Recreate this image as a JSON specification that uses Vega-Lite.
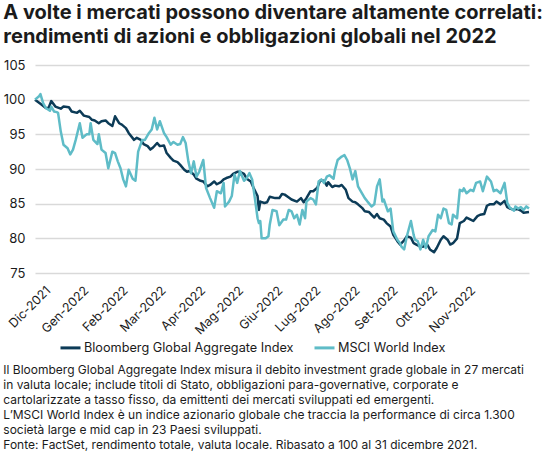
{
  "$schema": "https://vega.github.io/schema/vega-lite/v6.json",
  "background": "white",
  "padding": {"left": 3, "top": 3, "right": 0, "bottom": 0},
  "title": {
    "text": ["A volte i mercati possono diventare altamente correlati:", "rendimenti di azioni e obbligazioni globali nel 2022"],
    "anchor": "start",
    "frame": "bounds",
    "font": "Inter",
    "fontSize": 20,
    "fontWeight": "bold",
    "color": "#1b1b1b",
    "lineHeight": 24,
    "offset": 12
  },
  "config": {
    "font": "Inter",
    "view": {"stroke": null},
    "concat": {"spacing": 0}
  },
  "vconcat": [
    {
      "width": 494,
      "height": 208,
      "title": {
        "text": [
          "Il Bloomberg Global Aggregate Index misura il debito investment grade globale in 27 mercati",
          "in valuta locale; include titoli di Stato, obbligazioni para-governative, corporate e",
          "cartolarizzate a tasso fisso, da emittenti dei mercati sviluppati ed emergenti.",
          "L’MSCI World Index è un indice azionario globale che traccia la performance di circa 1.300",
          "società large e mid cap in 23 Paesi sviluppati.",
          "Fonte: FactSet, rendimento totale, valuta locale. Ribasato a 100 al 31 dicembre 2021."
        ],
        "orient": "bottom",
        "anchor": "start",
        "frame": "bounds",
        "font": "Inter",
        "fontSize": 12,
        "fontWeight": "normal",
        "color": "#1b1b1b",
        "lineHeight": 15,
        "offset": 29
      },
      "data": {
        "values": [
          {"data": "2021-12-31", "serie": "Bloomberg Global Aggregate Index", "valore": 100},
          {"data": "2022-01-04", "serie": "Bloomberg Global Aggregate Index", "valore": 99.4},
          {"data": "2022-01-08", "serie": "Bloomberg Global Aggregate Index", "valore": 98.8},
          {"data": "2022-01-10", "serie": "Bloomberg Global Aggregate Index", "valore": 98.8},
          {"data": "2022-01-12", "serie": "Bloomberg Global Aggregate Index", "valore": 99.8},
          {"data": "2022-01-15", "serie": "Bloomberg Global Aggregate Index", "valore": 99.0},
          {"data": "2022-01-19", "serie": "Bloomberg Global Aggregate Index", "valore": 98.7},
          {"data": "2022-01-21", "serie": "Bloomberg Global Aggregate Index", "valore": 99.0},
          {"data": "2022-01-25", "serie": "Bloomberg Global Aggregate Index", "valore": 98.9},
          {"data": "2022-01-27", "serie": "Bloomberg Global Aggregate Index", "valore": 98.3},
          {"data": "2022-01-31", "serie": "Bloomberg Global Aggregate Index", "valore": 98.1},
          {"data": "2022-02-02", "serie": "Bloomberg Global Aggregate Index", "valore": 98.4},
          {"data": "2022-02-05", "serie": "Bloomberg Global Aggregate Index", "valore": 97.7},
          {"data": "2022-02-09", "serie": "Bloomberg Global Aggregate Index", "valore": 97.5},
          {"data": "2022-02-11", "serie": "Bloomberg Global Aggregate Index", "valore": 97.1},
          {"data": "2022-02-13", "serie": "Bloomberg Global Aggregate Index", "valore": 97.0},
          {"data": "2022-02-16", "serie": "Bloomberg Global Aggregate Index", "valore": 96.6},
          {"data": "2022-02-18", "serie": "Bloomberg Global Aggregate Index", "valore": 96.9},
          {"data": "2022-02-21", "serie": "Bloomberg Global Aggregate Index", "valore": 97.0},
          {"data": "2022-02-23", "serie": "Bloomberg Global Aggregate Index", "valore": 96.6},
          {"data": "2022-02-26", "serie": "Bloomberg Global Aggregate Index", "valore": 96.2},
          {"data": "2022-02-28", "serie": "Bloomberg Global Aggregate Index", "valore": 97.6},
          {"data": "2022-03-03", "serie": "Bloomberg Global Aggregate Index", "valore": 96.6},
          {"data": "2022-03-05", "serie": "Bloomberg Global Aggregate Index", "valore": 96.4},
          {"data": "2022-03-08", "serie": "Bloomberg Global Aggregate Index", "valore": 95.9},
          {"data": "2022-03-10", "serie": "Bloomberg Global Aggregate Index", "valore": 95.2},
          {"data": "2022-03-14", "serie": "Bloomberg Global Aggregate Index", "valore": 94.2},
          {"data": "2022-03-16", "serie": "Bloomberg Global Aggregate Index", "valore": 94.5},
          {"data": "2022-03-19", "serie": "Bloomberg Global Aggregate Index", "valore": 94.2},
          {"data": "2022-03-21", "serie": "Bloomberg Global Aggregate Index", "valore": 93.6},
          {"data": "2022-03-24", "serie": "Bloomberg Global Aggregate Index", "valore": 93.3},
          {"data": "2022-03-26", "serie": "Bloomberg Global Aggregate Index", "valore": 92.8},
          {"data": "2022-03-28", "serie": "Bloomberg Global Aggregate Index", "valore": 93.1},
          {"data": "2022-03-31", "serie": "Bloomberg Global Aggregate Index", "valore": 93.75},
          {"data": "2022-04-02", "serie": "Bloomberg Global Aggregate Index", "valore": 93.3},
          {"data": "2022-04-05", "serie": "Bloomberg Global Aggregate Index", "valore": 93.4},
          {"data": "2022-04-07", "serie": "Bloomberg Global Aggregate Index", "valore": 92.3},
          {"data": "2022-04-10", "serie": "Bloomberg Global Aggregate Index", "valore": 91.6},
          {"data": "2022-04-12", "serie": "Bloomberg Global Aggregate Index", "valore": 91.2},
          {"data": "2022-04-15", "serie": "Bloomberg Global Aggregate Index", "valore": 91.0},
          {"data": "2022-04-17", "serie": "Bloomberg Global Aggregate Index", "valore": 90.6},
          {"data": "2022-04-20", "serie": "Bloomberg Global Aggregate Index", "valore": 89.9},
          {"data": "2022-04-22", "serie": "Bloomberg Global Aggregate Index", "valore": 89.6},
          {"data": "2022-04-24", "serie": "Bloomberg Global Aggregate Index", "valore": 89.7},
          {"data": "2022-04-27", "serie": "Bloomberg Global Aggregate Index", "valore": 89.2},
          {"data": "2022-04-29", "serie": "Bloomberg Global Aggregate Index", "valore": 88.6},
          {"data": "2022-05-02", "serie": "Bloomberg Global Aggregate Index", "valore": 88.3},
          {"data": "2022-05-04", "serie": "Bloomberg Global Aggregate Index", "valore": 88.2},
          {"data": "2022-05-07", "serie": "Bloomberg Global Aggregate Index", "valore": 87.5},
          {"data": "2022-05-09", "serie": "Bloomberg Global Aggregate Index", "valore": 87.7},
          {"data": "2022-05-12", "serie": "Bloomberg Global Aggregate Index", "valore": 88.2},
          {"data": "2022-05-14", "serie": "Bloomberg Global Aggregate Index", "valore": 87.8},
          {"data": "2022-05-17", "serie": "Bloomberg Global Aggregate Index", "valore": 88.1},
          {"data": "2022-05-19", "serie": "Bloomberg Global Aggregate Index", "valore": 88.5},
          {"data": "2022-05-21", "serie": "Bloomberg Global Aggregate Index", "valore": 88.7},
          {"data": "2022-05-24", "serie": "Bloomberg Global Aggregate Index", "valore": 88.9},
          {"data": "2022-05-26", "serie": "Bloomberg Global Aggregate Index", "valore": 89.3},
          {"data": "2022-05-29", "serie": "Bloomberg Global Aggregate Index", "valore": 89.6},
          {"data": "2022-05-31", "serie": "Bloomberg Global Aggregate Index", "valore": 89.6},
          {"data": "2022-06-03", "serie": "Bloomberg Global Aggregate Index", "valore": 89.3},
          {"data": "2022-06-05", "serie": "Bloomberg Global Aggregate Index", "valore": 88.6},
          {"data": "2022-06-08", "serie": "Bloomberg Global Aggregate Index", "valore": 88.2},
          {"data": "2022-06-10", "serie": "Bloomberg Global Aggregate Index", "valore": 87.3},
          {"data": "2022-06-13", "serie": "Bloomberg Global Aggregate Index", "valore": 86.1},
          {"data": "2022-06-14", "serie": "Bloomberg Global Aggregate Index", "valore": 84.1},
          {"data": "2022-06-15", "serie": "Bloomberg Global Aggregate Index", "valore": 85.3},
          {"data": "2022-06-18", "serie": "Bloomberg Global Aggregate Index", "valore": 85.1},
          {"data": "2022-06-20", "serie": "Bloomberg Global Aggregate Index", "valore": 85.2},
          {"data": "2022-06-22", "serie": "Bloomberg Global Aggregate Index", "valore": 86.0},
          {"data": "2022-06-26", "serie": "Bloomberg Global Aggregate Index", "valore": 85.8},
          {"data": "2022-06-29", "serie": "Bloomberg Global Aggregate Index", "valore": 85.8},
          {"data": "2022-07-01", "serie": "Bloomberg Global Aggregate Index", "valore": 86.4},
          {"data": "2022-07-03", "serie": "Bloomberg Global Aggregate Index", "valore": 86.3},
          {"data": "2022-07-06", "serie": "Bloomberg Global Aggregate Index", "valore": 85.9},
          {"data": "2022-07-08", "serie": "Bloomberg Global Aggregate Index", "valore": 85.6},
          {"data": "2022-07-12", "serie": "Bloomberg Global Aggregate Index", "valore": 85.3},
          {"data": "2022-07-15", "serie": "Bloomberg Global Aggregate Index", "valore": 85.8},
          {"data": "2022-07-17", "serie": "Bloomberg Global Aggregate Index", "valore": 85.2},
          {"data": "2022-07-19", "serie": "Bloomberg Global Aggregate Index", "valore": 85.8},
          {"data": "2022-07-22", "serie": "Bloomberg Global Aggregate Index", "valore": 86.8},
          {"data": "2022-07-24", "serie": "Bloomberg Global Aggregate Index", "valore": 86.8},
          {"data": "2022-07-27", "serie": "Bloomberg Global Aggregate Index", "valore": 87.3},
          {"data": "2022-07-29", "serie": "Bloomberg Global Aggregate Index", "valore": 88.3},
          {"data": "2022-08-01", "serie": "Bloomberg Global Aggregate Index", "valore": 88.3},
          {"data": "2022-08-03", "serie": "Bloomberg Global Aggregate Index", "valore": 87.6},
          {"data": "2022-08-04", "serie": "Bloomberg Global Aggregate Index", "valore": 88.1},
          {"data": "2022-08-07", "serie": "Bloomberg Global Aggregate Index", "valore": 87.4},
          {"data": "2022-08-09", "serie": "Bloomberg Global Aggregate Index", "valore": 87.6},
          {"data": "2022-08-12", "serie": "Bloomberg Global Aggregate Index", "valore": 87.5},
          {"data": "2022-08-14", "serie": "Bloomberg Global Aggregate Index", "valore": 87.7},
          {"data": "2022-08-17", "serie": "Bloomberg Global Aggregate Index", "valore": 87.0},
          {"data": "2022-08-19", "serie": "Bloomberg Global Aggregate Index", "valore": 85.8},
          {"data": "2022-08-22", "serie": "Bloomberg Global Aggregate Index", "valore": 85.3},
          {"data": "2022-08-24", "serie": "Bloomberg Global Aggregate Index", "valore": 85.2},
          {"data": "2022-08-26", "serie": "Bloomberg Global Aggregate Index", "valore": 84.9},
          {"data": "2022-08-29", "serie": "Bloomberg Global Aggregate Index", "valore": 84.4},
          {"data": "2022-08-31", "serie": "Bloomberg Global Aggregate Index", "valore": 83.9},
          {"data": "2022-09-03", "serie": "Bloomberg Global Aggregate Index", "valore": 83.8},
          {"data": "2022-09-05", "serie": "Bloomberg Global Aggregate Index", "valore": 83.4},
          {"data": "2022-09-07", "serie": "Bloomberg Global Aggregate Index", "valore": 83.0},
          {"data": "2022-09-09", "serie": "Bloomberg Global Aggregate Index", "valore": 83.5},
          {"data": "2022-09-11", "serie": "Bloomberg Global Aggregate Index", "valore": 82.9},
          {"data": "2022-09-14", "serie": "Bloomberg Global Aggregate Index", "valore": 82.7},
          {"data": "2022-09-16", "serie": "Bloomberg Global Aggregate Index", "valore": 82.2},
          {"data": "2022-09-19", "serie": "Bloomberg Global Aggregate Index", "valore": 81.7},
          {"data": "2022-09-21", "serie": "Bloomberg Global Aggregate Index", "valore": 80.5},
          {"data": "2022-09-24", "serie": "Bloomberg Global Aggregate Index", "valore": 79.6},
          {"data": "2022-09-26", "serie": "Bloomberg Global Aggregate Index", "valore": 79.1},
          {"data": "2022-09-29", "serie": "Bloomberg Global Aggregate Index", "valore": 79.7},
          {"data": "2022-10-01", "serie": "Bloomberg Global Aggregate Index", "valore": 80.3},
          {"data": "2022-10-04", "serie": "Bloomberg Global Aggregate Index", "valore": 80.1},
          {"data": "2022-10-06", "serie": "Bloomberg Global Aggregate Index", "valore": 79.3},
          {"data": "2022-10-08", "serie": "Bloomberg Global Aggregate Index", "valore": 79.1},
          {"data": "2022-10-11", "serie": "Bloomberg Global Aggregate Index", "valore": 78.8},
          {"data": "2022-10-13", "serie": "Bloomberg Global Aggregate Index", "valore": 78.8},
          {"data": "2022-10-16", "serie": "Bloomberg Global Aggregate Index", "valore": 79.1},
          {"data": "2022-10-18", "serie": "Bloomberg Global Aggregate Index", "valore": 78.4},
          {"data": "2022-10-21", "serie": "Bloomberg Global Aggregate Index", "valore": 78.0},
          {"data": "2022-10-23", "serie": "Bloomberg Global Aggregate Index", "valore": 78.6},
          {"data": "2022-10-26", "serie": "Bloomberg Global Aggregate Index", "valore": 79.8},
          {"data": "2022-10-28", "serie": "Bloomberg Global Aggregate Index", "valore": 80.3},
          {"data": "2022-10-31", "serie": "Bloomberg Global Aggregate Index", "valore": 79.8},
          {"data": "2022-11-02", "serie": "Bloomberg Global Aggregate Index", "valore": 79.1},
          {"data": "2022-11-04", "serie": "Bloomberg Global Aggregate Index", "valore": 79.3},
          {"data": "2022-11-07", "serie": "Bloomberg Global Aggregate Index", "valore": 80.0},
          {"data": "2022-11-09", "serie": "Bloomberg Global Aggregate Index", "valore": 82.2},
          {"data": "2022-11-12", "serie": "Bloomberg Global Aggregate Index", "valore": 82.5},
          {"data": "2022-11-14", "serie": "Bloomberg Global Aggregate Index", "valore": 83.0},
          {"data": "2022-11-17", "serie": "Bloomberg Global Aggregate Index", "valore": 82.7},
          {"data": "2022-11-19", "serie": "Bloomberg Global Aggregate Index", "valore": 82.5},
          {"data": "2022-11-22", "serie": "Bloomberg Global Aggregate Index", "valore": 83.2},
          {"data": "2022-11-24", "serie": "Bloomberg Global Aggregate Index", "valore": 83.4},
          {"data": "2022-11-27", "serie": "Bloomberg Global Aggregate Index", "valore": 83.5},
          {"data": "2022-11-29", "serie": "Bloomberg Global Aggregate Index", "valore": 84.7},
          {"data": "2022-12-01", "serie": "Bloomberg Global Aggregate Index", "valore": 84.9},
          {"data": "2022-12-04", "serie": "Bloomberg Global Aggregate Index", "valore": 84.9},
          {"data": "2022-12-06", "serie": "Bloomberg Global Aggregate Index", "valore": 85.3},
          {"data": "2022-12-09", "serie": "Bloomberg Global Aggregate Index", "valore": 84.9},
          {"data": "2022-12-12", "serie": "Bloomberg Global Aggregate Index", "valore": 85.4},
          {"data": "2022-12-14", "serie": "Bloomberg Global Aggregate Index", "valore": 84.5},
          {"data": "2022-12-16", "serie": "Bloomberg Global Aggregate Index", "valore": 84.3},
          {"data": "2022-12-19", "serie": "Bloomberg Global Aggregate Index", "valore": 84.1},
          {"data": "2022-12-21", "serie": "Bloomberg Global Aggregate Index", "valore": 84.3},
          {"data": "2022-12-24", "serie": "Bloomberg Global Aggregate Index", "valore": 84.0},
          {"data": "2022-12-26", "serie": "Bloomberg Global Aggregate Index", "valore": 83.7},
          {"data": "2022-12-30", "serie": "Bloomberg Global Aggregate Index", "valore": 83.8},
          {"data": "2021-12-31", "serie": "MSCI World Index", "valore": 100},
          {"data": "2022-01-03", "serie": "MSCI World Index", "valore": 100.5},
          {"data": "2022-01-04", "serie": "MSCI World Index", "valore": 100.8},
          {"data": "2022-01-06", "serie": "MSCI World Index", "valore": 99.5},
          {"data": "2022-01-08", "serie": "MSCI World Index", "valore": 98.8},
          {"data": "2022-01-11", "serie": "MSCI World Index", "valore": 98.4},
          {"data": "2022-01-12", "serie": "MSCI World Index", "valore": 99.0},
          {"data": "2022-01-14", "serie": "MSCI World Index", "valore": 98.3},
          {"data": "2022-01-16", "serie": "MSCI World Index", "valore": 98.2},
          {"data": "2022-01-17", "serie": "MSCI World Index", "valore": 98.1},
          {"data": "2022-01-19", "serie": "MSCI World Index", "valore": 95.4},
          {"data": "2022-01-21", "serie": "MSCI World Index", "valore": 93.5},
          {"data": "2022-01-24", "serie": "MSCI World Index", "valore": 93.0},
          {"data": "2022-01-26", "serie": "MSCI World Index", "valore": 92.1},
          {"data": "2022-01-28", "serie": "MSCI World Index", "valore": 92.8},
          {"data": "2022-01-30", "serie": "MSCI World Index", "valore": 94.2},
          {"data": "2022-02-02", "serie": "MSCI World Index", "valore": 96.6},
          {"data": "2022-02-04", "serie": "MSCI World Index", "valore": 94.5},
          {"data": "2022-02-07", "serie": "MSCI World Index", "valore": 95.0},
          {"data": "2022-02-09", "serie": "MSCI World Index", "valore": 95.0},
          {"data": "2022-02-10", "serie": "MSCI World Index", "valore": 96.6},
          {"data": "2022-02-12", "serie": "MSCI World Index", "valore": 94.2},
          {"data": "2022-02-15", "serie": "MSCI World Index", "valore": 93.6},
          {"data": "2022-02-16", "serie": "MSCI World Index", "valore": 95.0},
          {"data": "2022-02-18", "serie": "MSCI World Index", "valore": 92.8},
          {"data": "2022-02-21", "serie": "MSCI World Index", "valore": 92.3},
          {"data": "2022-02-23", "serie": "MSCI World Index", "valore": 90.1},
          {"data": "2022-02-26", "serie": "MSCI World Index", "valore": 92.5},
          {"data": "2022-02-28", "serie": "MSCI World Index", "valore": 92.3},
          {"data": "2022-03-02", "serie": "MSCI World Index", "valore": 91.1},
          {"data": "2022-03-04", "serie": "MSCI World Index", "valore": 90.1},
          {"data": "2022-03-06", "serie": "MSCI World Index", "valore": 88.5},
          {"data": "2022-03-08", "serie": "MSCI World Index", "valore": 87.5},
          {"data": "2022-03-10", "serie": "MSCI World Index", "valore": 89.9},
          {"data": "2022-03-13", "serie": "MSCI World Index", "valore": 88.6},
          {"data": "2022-03-15", "serie": "MSCI World Index", "valore": 88.3},
          {"data": "2022-03-17", "serie": "MSCI World Index", "valore": 92.5},
          {"data": "2022-03-20", "serie": "MSCI World Index", "valore": 94.2},
          {"data": "2022-03-22", "serie": "MSCI World Index", "valore": 94.2},
          {"data": "2022-03-25", "serie": "MSCI World Index", "valore": 95.2},
          {"data": "2022-03-27", "serie": "MSCI World Index", "valore": 95.7},
          {"data": "2022-03-29", "serie": "MSCI World Index", "valore": 97.4},
          {"data": "2022-03-31", "serie": "MSCI World Index", "valore": 95.7},
          {"data": "2022-04-02", "serie": "MSCI World Index", "valore": 96.9},
          {"data": "2022-04-05", "serie": "MSCI World Index", "valore": 95.2},
          {"data": "2022-04-07", "serie": "MSCI World Index", "valore": 94.6},
          {"data": "2022-04-10", "serie": "MSCI World Index", "valore": 93.5},
          {"data": "2022-04-12", "serie": "MSCI World Index", "valore": 93.9},
          {"data": "2022-04-15", "serie": "MSCI World Index", "valore": 93.5},
          {"data": "2022-04-17", "serie": "MSCI World Index", "valore": 93.6},
          {"data": "2022-04-19", "serie": "MSCI World Index", "valore": 94.6},
          {"data": "2022-04-21", "serie": "MSCI World Index", "valore": 93.75},
          {"data": "2022-04-23", "serie": "MSCI World Index", "valore": 91.1},
          {"data": "2022-04-25", "serie": "MSCI World Index", "valore": 89.4},
          {"data": "2022-04-27", "serie": "MSCI World Index", "valore": 91.1},
          {"data": "2022-04-29", "serie": "MSCI World Index", "valore": 88.9},
          {"data": "2022-05-01", "serie": "MSCI World Index", "valore": 89.6},
          {"data": "2022-05-04", "serie": "MSCI World Index", "valore": 91.3},
          {"data": "2022-05-06", "serie": "MSCI World Index", "valore": 87.3},
          {"data": "2022-05-09", "serie": "MSCI World Index", "valore": 85.8},
          {"data": "2022-05-12", "serie": "MSCI World Index", "valore": 84.4},
          {"data": "2022-05-14", "serie": "MSCI World Index", "valore": 86.8},
          {"data": "2022-05-17", "serie": "MSCI World Index", "valore": 86.5},
          {"data": "2022-05-19", "serie": "MSCI World Index", "valore": 88.0},
          {"data": "2022-05-20", "serie": "MSCI World Index", "valore": 84.6},
          {"data": "2022-05-23", "serie": "MSCI World Index", "valore": 85.3},
          {"data": "2022-05-25", "serie": "MSCI World Index", "valore": 86.1},
          {"data": "2022-05-27", "serie": "MSCI World Index", "valore": 89.2},
          {"data": "2022-05-29", "serie": "MSCI World Index", "valore": 88.0},
          {"data": "2022-05-31", "serie": "MSCI World Index", "valore": 89.7},
          {"data": "2022-06-03", "serie": "MSCI World Index", "valore": 88.3},
          {"data": "2022-06-05", "serie": "MSCI World Index", "valore": 88.7},
          {"data": "2022-06-07", "serie": "MSCI World Index", "valore": 89.4},
          {"data": "2022-06-09", "serie": "MSCI World Index", "valore": 88.5},
          {"data": "2022-06-11", "serie": "MSCI World Index", "valore": 85.8},
          {"data": "2022-06-13", "serie": "MSCI World Index", "valore": 82.9},
          {"data": "2022-06-14", "serie": "MSCI World Index", "valore": 82.2},
          {"data": "2022-06-15", "serie": "MSCI World Index", "valore": 82.5},
          {"data": "2022-06-16", "serie": "MSCI World Index", "valore": 80.0},
          {"data": "2022-06-19", "serie": "MSCI World Index", "valore": 80.0},
          {"data": "2022-06-21", "serie": "MSCI World Index", "valore": 80.3},
          {"data": "2022-06-22", "serie": "MSCI World Index", "valore": 82.0},
          {"data": "2022-06-24", "serie": "MSCI World Index", "valore": 84.1},
          {"data": "2022-06-27", "serie": "MSCI World Index", "valore": 83.9},
          {"data": "2022-06-29", "serie": "MSCI World Index", "valore": 81.9},
          {"data": "2022-07-02", "serie": "MSCI World Index", "valore": 82.7},
          {"data": "2022-07-04", "serie": "MSCI World Index", "valore": 82.7},
          {"data": "2022-07-06", "serie": "MSCI World Index", "valore": 84.1},
          {"data": "2022-07-08", "serie": "MSCI World Index", "valore": 83.9},
          {"data": "2022-07-10", "serie": "MSCI World Index", "valore": 82.9},
          {"data": "2022-07-12", "serie": "MSCI World Index", "valore": 83.4},
          {"data": "2022-07-14", "serie": "MSCI World Index", "valore": 82.0},
          {"data": "2022-07-16", "serie": "MSCI World Index", "valore": 84.1},
          {"data": "2022-07-18", "serie": "MSCI World Index", "valore": 82.9},
          {"data": "2022-07-19", "serie": "MSCI World Index", "valore": 85.3},
          {"data": "2022-07-22", "serie": "MSCI World Index", "valore": 85.8},
          {"data": "2022-07-24", "serie": "MSCI World Index", "valore": 85.6},
          {"data": "2022-07-26", "serie": "MSCI World Index", "valore": 84.9},
          {"data": "2022-07-28", "serie": "MSCI World Index", "valore": 88.2},
          {"data": "2022-07-30", "serie": "MSCI World Index", "valore": 88.5},
          {"data": "2022-08-01", "serie": "MSCI World Index", "valore": 88.0},
          {"data": "2022-08-03", "serie": "MSCI World Index", "valore": 88.9},
          {"data": "2022-08-05", "serie": "MSCI World Index", "valore": 89.1},
          {"data": "2022-08-08", "serie": "MSCI World Index", "valore": 88.6},
          {"data": "2022-08-09", "serie": "MSCI World Index", "valore": 89.8},
          {"data": "2022-08-11", "serie": "MSCI World Index", "valore": 91.3},
          {"data": "2022-08-14", "serie": "MSCI World Index", "valore": 91.8},
          {"data": "2022-08-16", "serie": "MSCI World Index", "valore": 92.0},
          {"data": "2022-08-18", "serie": "MSCI World Index", "valore": 91.3},
          {"data": "2022-08-20", "serie": "MSCI World Index", "valore": 90.1},
          {"data": "2022-08-22", "serie": "MSCI World Index", "valore": 88.5},
          {"data": "2022-08-24", "serie": "MSCI World Index", "valore": 89.7},
          {"data": "2022-08-26", "serie": "MSCI World Index", "valore": 87.5},
          {"data": "2022-08-28", "serie": "MSCI World Index", "valore": 86.8},
          {"data": "2022-08-31", "serie": "MSCI World Index", "valore": 85.8},
          {"data": "2022-09-02", "serie": "MSCI World Index", "valore": 85.3},
          {"data": "2022-09-05", "serie": "MSCI World Index", "valore": 84.6},
          {"data": "2022-09-07", "serie": "MSCI World Index", "valore": 84.9},
          {"data": "2022-09-09", "serie": "MSCI World Index", "valore": 87.5},
          {"data": "2022-09-11", "serie": "MSCI World Index", "valore": 88.5},
          {"data": "2022-09-13", "serie": "MSCI World Index", "valore": 85.3},
          {"data": "2022-09-14", "serie": "MSCI World Index", "valore": 85.6},
          {"data": "2022-09-17", "serie": "MSCI World Index", "valore": 83.9},
          {"data": "2022-09-19", "serie": "MSCI World Index", "valore": 84.3},
          {"data": "2022-09-21", "serie": "MSCI World Index", "valore": 81.0},
          {"data": "2022-09-24", "serie": "MSCI World Index", "valore": 79.8},
          {"data": "2022-09-26", "serie": "MSCI World Index", "valore": 79.3},
          {"data": "2022-09-27", "serie": "MSCI World Index", "valore": 78.8},
          {"data": "2022-09-29", "serie": "MSCI World Index", "valore": 78.4},
          {"data": "2022-10-01", "serie": "MSCI World Index", "valore": 80.3},
          {"data": "2022-10-04", "serie": "MSCI World Index", "valore": 82.5},
          {"data": "2022-10-06", "serie": "MSCI World Index", "valore": 80.5},
          {"data": "2022-10-07", "serie": "MSCI World Index", "valore": 79.8},
          {"data": "2022-10-09", "serie": "MSCI World Index", "valore": 79.6},
          {"data": "2022-10-11", "serie": "MSCI World Index", "valore": 78.4},
          {"data": "2022-10-13", "serie": "MSCI World Index", "valore": 79.8},
          {"data": "2022-10-15", "serie": "MSCI World Index", "valore": 78.6},
          {"data": "2022-10-17", "serie": "MSCI World Index", "valore": 80.3},
          {"data": "2022-10-20", "serie": "MSCI World Index", "valore": 81.2},
          {"data": "2022-10-22", "serie": "MSCI World Index", "valore": 81.0},
          {"data": "2022-10-24", "serie": "MSCI World Index", "valore": 83.4},
          {"data": "2022-10-26", "serie": "MSCI World Index", "valore": 82.9},
          {"data": "2022-10-28", "serie": "MSCI World Index", "valore": 84.3},
          {"data": "2022-10-30", "serie": "MSCI World Index", "valore": 84.1},
          {"data": "2022-11-01", "serie": "MSCI World Index", "valore": 82.2},
          {"data": "2022-11-03", "serie": "MSCI World Index", "valore": 82.0},
          {"data": "2022-11-04", "serie": "MSCI World Index", "valore": 83.4},
          {"data": "2022-11-07", "serie": "MSCI World Index", "valore": 82.9},
          {"data": "2022-11-09", "serie": "MSCI World Index", "valore": 87.0},
          {"data": "2022-11-11", "serie": "MSCI World Index", "valore": 86.8},
          {"data": "2022-11-12", "serie": "MSCI World Index", "valore": 87.2},
          {"data": "2022-11-14", "serie": "MSCI World Index", "valore": 86.5},
          {"data": "2022-11-17", "serie": "MSCI World Index", "valore": 87.0},
          {"data": "2022-11-19", "serie": "MSCI World Index", "valore": 86.8},
          {"data": "2022-11-21", "serie": "MSCI World Index", "valore": 88.0},
          {"data": "2022-11-24", "serie": "MSCI World Index", "valore": 88.2},
          {"data": "2022-11-26", "serie": "MSCI World Index", "valore": 86.8},
          {"data": "2022-11-29", "serie": "MSCI World Index", "valore": 88.9},
          {"data": "2022-12-02", "serie": "MSCI World Index", "valore": 88.2},
          {"data": "2022-12-04", "serie": "MSCI World Index", "valore": 86.8},
          {"data": "2022-12-06", "serie": "MSCI World Index", "valore": 87.0},
          {"data": "2022-12-09", "serie": "MSCI World Index", "valore": 86.5},
          {"data": "2022-12-12", "serie": "MSCI World Index", "valore": 88.0},
          {"data": "2022-12-14", "serie": "MSCI World Index", "valore": 85.1},
          {"data": "2022-12-16", "serie": "MSCI World Index", "valore": 84.4},
          {"data": "2022-12-19", "serie": "MSCI World Index", "valore": 84.0},
          {"data": "2022-12-20", "serie": "MSCI World Index", "valore": 84.6},
          {"data": "2022-12-22", "serie": "MSCI World Index", "valore": 84.3},
          {"data": "2022-12-24", "serie": "MSCI World Index", "valore": 84.5},
          {"data": "2022-12-26", "serie": "MSCI World Index", "valore": 84.1},
          {"data": "2022-12-28", "serie": "MSCI World Index", "valore": 84.6},
          {"data": "2022-12-30", "serie": "MSCI World Index", "valore": 84.3}
        ]
      },
      "mark": {"type": "line", "strokeWidth": 2.5, "strokeJoin": "round"},
      "encoding": {
        "x": {
          "field": "data",
          "type": "temporal",
          "scale": {
            "type": "utc",
            "nice": false,
            "domain": [
              {"year": 2021, "month": 12, "date": 31, "utc": true},
              {"year": 2022, "month": 12, "date": 30, "utc": true}
            ]
          },
          "axis": {
            "title": null,
            "grid": false,
            "domain": false,
            "ticks": false,
            "values": [
              {"year": 2021, "month": 12, "date": 31, "utc": true},
              {"year": 2022, "month": 1, "date": 28, "utc": true},
              {"year": 2022, "month": 2, "date": 26, "utc": true},
              {"year": 2022, "month": 3, "date": 26, "utc": true},
              {"year": 2022, "month": 4, "date": 24, "utc": true},
              {"year": 2022, "month": 5, "date": 22, "utc": true},
              {"year": 2022, "month": 6, "date": 20, "utc": true},
              {"year": 2022, "month": 7, "date": 18, "utc": true},
              {"year": 2022, "month": 8, "date": 16, "utc": true},
              {"year": 2022, "month": 9, "date": 13, "utc": true},
              {"year": 2022, "month": 10, "date": 12, "utc": true},
              {"year": 2022, "month": 11, "date": 9, "utc": true}
            ],
            "labelExpr": "['Gen','Feb','Mar','Apr','Mag','Giu','Lug','Ago','Set','Ott','Nov','Dic'][utcmonth(datum.value)] + '-' + utcyear(datum.value)",
            "labelAngle": -45,
            "labelAlign": "right",
            "labelBaseline": "middle",
            "labelOffset": 13,
            "labelPadding": 15,
            "labelFontSize": 12.5,
            "labelColor": "#1b1b1b",
            "labelOverlap": false,
            "labelFlush": false,
            "labelBound": false
          }
        },
        "y": {
          "field": "valore",
          "type": "quantitative",
          "scale": {"domain": [75, 105], "nice": false, "zero": false},
          "axis": {
            "title": null,
            "values": [75, 80, 85, 90, 95, 100, 105],
            "grid": true,
            "gridColor": "#d9d9d9",
            "gridWidth": 1.5,
            "domain": false,
            "ticks": false,
            "labelPadding": 10,
            "labelFontSize": 13,
            "labelColor": "#1b1b1b"
          }
        },
        "color": {
          "field": "serie",
          "type": "nominal",
          "scale": {
            "domain": ["Bloomberg Global Aggregate Index", "MSCI World Index"],
            "range": ["#0c3b57", "#5fbcc7"]
          },
          "legend": {
            "title": null,
            "orient": "none",
            "legendX": 24,
            "legendY": 271,
            "direction": "horizontal",
            "symbolType": "stroke",
            "symbolSize": 400,
            "symbolStrokeWidth": 3,
            "labelFontSize": 12.7,
            "labelLimit": 400,
            "labelColor": "#1b1b1b",
            "labelOffset": 2,
            "columnPadding": 14,
            "padding": 0
          }
        }
      }
    }
  ]
}
